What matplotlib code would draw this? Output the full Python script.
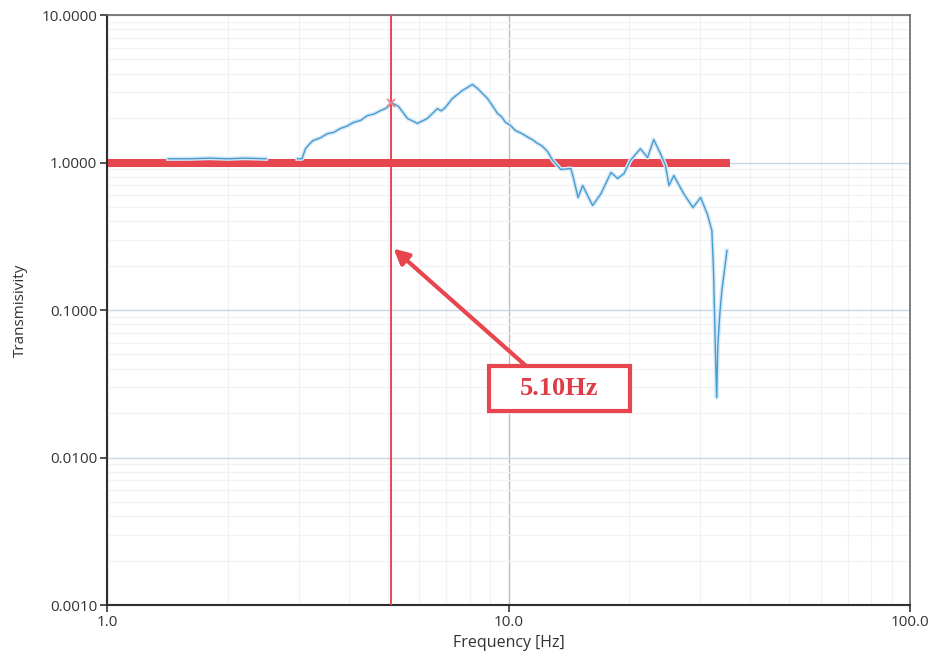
import numpy as np
import matplotlib
matplotlib.use("Agg")
import matplotlib.pyplot as plt
from matplotlib.patches import Rectangle
from matplotlib.ticker import FixedLocator, FixedFormatter, LogLocator, NullFormatter

# Measured transmissibility curve (NaN marks the gap in the record)
freq_hz = [1.42, 1.60, 1.80, 2.00, 2.20, 2.49, 2.70,
           2.98, 3.06, 3.12, 3.19, 3.26, 3.40, 3.54, 3.67, 3.81, 3.95, 4.11,
           4.28, 4.45, 4.62, 4.80, 4.95, 5.08, 5.10,
           5.32, 5.60, 5.93, 6.28, 6.65, 6.80, 6.96, 7.25, 7.68, 8.13, 8.37, 8.60,
           8.86, 9.10, 9.39, 9.60, 9.83, 10.1, 10.4, 10.8, 11.2, 11.5, 11.8,
           12.1, 12.5, 12.9, 13.5, 14.3, 14.5, 14.9,
           15.3, 16.2, 17.0, 18.0, 18.7, 19.4, 20.1, 21.3, 22.2, 23.0, 23.9,
           24.6, 25.1, 25.8, 27.3, 28.8, 30.1, 31.3, 32.1, 32.4, 32.6, 32.8,
           33.0, 33.2, 33.6, 34.0, 35.0]
transmissivity = [1.06, 1.06, 1.07, 1.06, 1.07, 1.06, np.nan,
                  1.06, 1.06, 1.24, 1.33, 1.41, 1.47, 1.57, 1.60, 1.70, 1.76, 1.87,
                  1.93, 2.08, 2.13, 2.25, 2.33, 2.47, 2.55,
                  2.40, 1.99, 1.84, 1.99, 2.32, 2.24, 2.36, 2.72, 3.08, 3.38, 3.18, 2.95,
                  2.72, 2.45, 2.15, 2.05, 1.87, 1.79, 1.65, 1.57, 1.48, 1.42, 1.35,
                  1.30, 1.19, 1.03, 0.897, 0.911, 0.791, 0.579,
                  0.698, 0.511, 0.616, 0.856, 0.779, 0.842, 1.03, 1.24, 1.08, 1.43, 1.15,
                  0.954, 0.698, 0.816, 0.616, 0.495, 0.579, 0.444, 0.346, 0.185, 0.0947, 0.0455,
                  0.0255, 0.0557, 0.0947, 0.136, 0.253]

peak_freq = 5.10
peak_value = 2.55
unity_level = 1.0
unity_span = [1.0, 35.6]
peak_label = "5.10Hz"

x_ticks = [1.0, 10.0, 100.0]
x_tick_labels = ["1.0", "10.0", "100.0"]
y_ticks = [0.001, 0.01, 0.1, 1.0, 10.0]
y_tick_labels = ["0.0010", "0.0100", "0.1000", "1.0000", "10.0000"]

RED = "#e8464f"
BLUE = "#4a9bd2"
GLOW = "#d3e8f6"

plt.rcParams["font.family"] = ["Open Sans", "DejaVu Sans"]

fig = plt.figure(figsize=(9.34, 6.70), dpi=100)
ax = fig.add_axes([0.1146, 0.0970, 0.8597, 0.8806])
ax.set_xscale("log")
ax.set_yscale("log")
ax.set_xlim(1.0, 100.0)
ax.set_ylim(0.001, 10.0)

# grid
ax.xaxis.set_minor_locator(LogLocator(base=10, subs=np.arange(2, 10)))
ax.yaxis.set_minor_locator(LogLocator(base=10, subs=np.arange(2, 10)))
ax.xaxis.set_minor_formatter(NullFormatter())
ax.yaxis.set_minor_formatter(NullFormatter())
ax.grid(which="minor", axis="both", color="#f0f2f5", linewidth=0.9)
ax.grid(which="major", axis="y", color="#cbd8e3", linewidth=1.0)
ax.grid(which="major", axis="x", color="#bdbdbd", linewidth=1.0)
ax.set_axisbelow(True)

# unity reference line
ax.plot(unity_span, [unity_level, unity_level], color=RED, linewidth=5.8,
        solid_capstyle="butt", zorder=2)

# transmissibility curve with soft halo
ax.plot(freq_hz, transmissivity, color=GLOW, linewidth=3.0, zorder=3)
ax.plot(freq_hz, transmissivity, color=BLUE, linewidth=1.0, zorder=4)

# cursor at the first resonance
ax.axvline(peak_freq, color=RED, linewidth=1.4, zorder=5)
ax.plot([peak_freq], [peak_value], marker="x", color="#f07a88", markersize=6,
        markeredgewidth=1.2, zorder=6)

# callout
ax.annotate("", xy=(5.17, 0.261), xytext=(11.03, 0.042),
            arrowprops=dict(arrowstyle="-|>,head_length=0.9,head_width=0.45",
                            color=RED, linewidth=3.0, shrinkA=0, shrinkB=0),
            zorder=7)
ax.add_patch(Rectangle((8.92, 0.0208), 20.1 - 8.92, 0.0420 - 0.0208,
                       facecolor="white", edgecolor=RED, linewidth=3.0, zorder=8))
ax.text(13.4, 0.0292, peak_label, color="#dc3d47", fontsize=19,
        fontweight="bold", family=["Liberation Serif", "DejaVu Serif"],
        ha="center", va="center", zorder=9)

# axes styling
ax.xaxis.set_major_locator(FixedLocator(x_ticks))
ax.xaxis.set_major_formatter(FixedFormatter(x_tick_labels))
ax.yaxis.set_major_locator(FixedLocator(y_ticks))
ax.yaxis.set_major_formatter(FixedFormatter(y_tick_labels))
ax.tick_params(which="major", direction="out", length=5, width=1.2,
               color="#333333", labelsize=11, labelcolor="#333333", pad=2)
ax.tick_params(which="minor", length=0)
for side in ("left", "bottom"):
    ax.spines[side].set_color("#2e2e2e")
    ax.spines[side].set_linewidth(1.5)
for side in ("top", "right"):
    ax.spines[side].set_color("#6a6a6a")
    ax.spines[side].set_linewidth(1.2)

ax.set_xlabel("Frequency [Hz]", fontsize=11.5, color="#333333", labelpad=4)
ax.set_ylabel("Transmisivity", fontsize=11, color="#333333", labelpad=10)

fig.savefig("out.png", dpi=100)
